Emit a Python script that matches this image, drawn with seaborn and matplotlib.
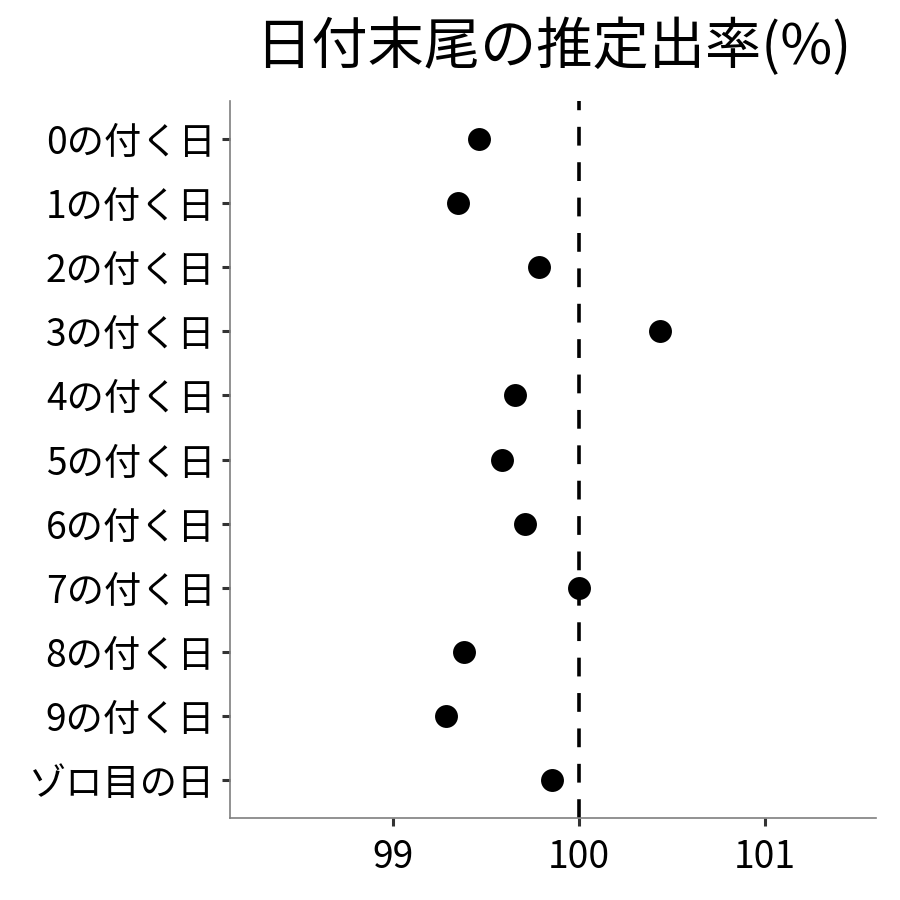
import matplotlib
matplotlib.use("Agg")
import matplotlib.pyplot as plt
import seaborn as sns
import pandas as pd

categories = ["0の付く日", "1の付く日", "2の付く日", "3の付く日", "4の付く日",
              "5の付く日", "6の付く日", "7の付く日", "8の付く日", "9の付く日", "ゾロ目の日"]
rates = [99.462, 99.349, 99.785, 100.435, 99.656, 99.586, 99.710, 100.0, 99.382, 99.285, 99.855]
xticks = [99, 100, 101]

df = pd.DataFrame({"day": categories, "rate": rates})

sns.set_style("white")
plt.rcParams["font.family"] = ["Noto Sans CJK JP", "DejaVu Sans"]

fig = plt.figure(figsize=(9, 9), dpi=100)
ax = fig.add_axes([230 / 900, 1 - 818 / 900, (876 - 230) / 900, (818 - 101) / 900])

ax.axvline(100, color="black", lw=2.6, dashes=(5.2, 4.6), zorder=1)
sns.stripplot(data=df, x="rate", y="day", order=categories, jitter=False,
              color="black", size=16.5, linewidth=0, ax=ax, zorder=3)

ax.set_xlim(98.124, 101.597)
ax.set_ylim(10.6, -0.6)
ax.set_xticks(xticks)
ax.set_xticklabels([str(t) for t in xticks])
ax.set_xlabel("")
ax.set_ylabel("")

for side in ["top", "right"]:
    ax.spines[side].set_visible(False)
for side in ["left", "bottom"]:
    ax.spines[side].set_color("#7f7f7f")
    ax.spines[side].set_linewidth(1.2)

ax.tick_params(axis="both", length=5.5, width=2.2, color="#333333",
               labelsize=26.8, labelcolor="black", left=True, bottom=True)
ax.tick_params(axis="y", pad=5)
ax.tick_params(axis="x", pad=9)

fig.text(553 / 900, 1 - 48 / 900, "日付末尾の推定出率(%)", ha="center", va="center",
         fontsize=40.5, color="black")

fig.savefig("out.png", dpi=100)
